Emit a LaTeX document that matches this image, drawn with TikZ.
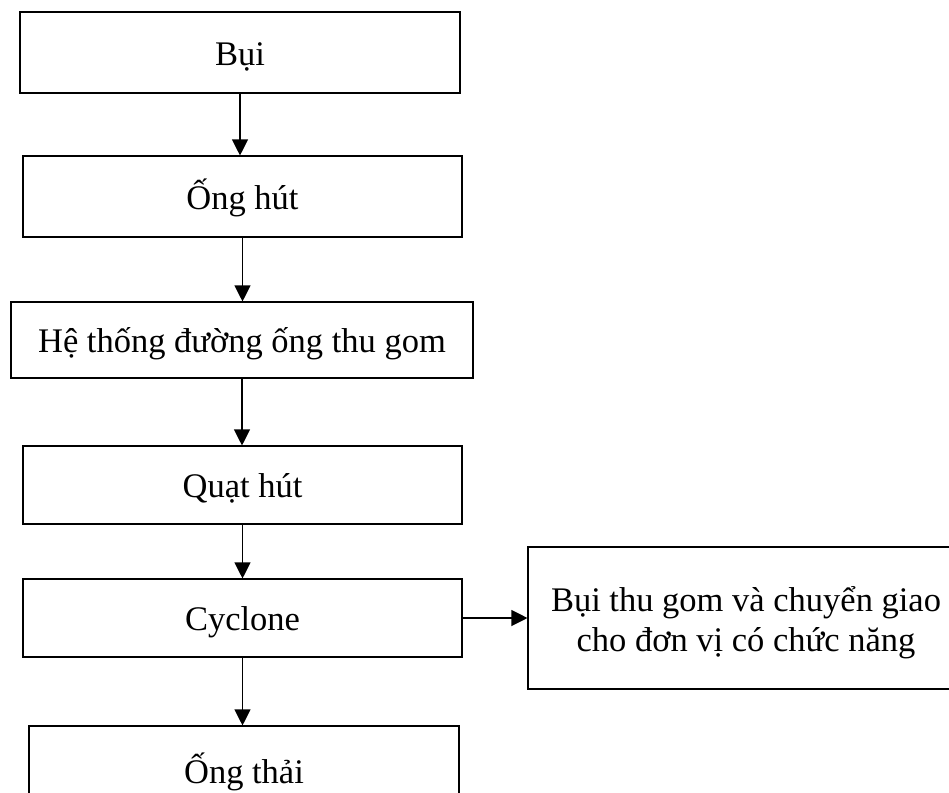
\documentclass[tikz,border=0pt]{standalone}
\usepackage{fontspec}
\setmainfont{Liberation Serif}
\usetikzlibrary{arrows.meta}
\begin{document}
\begin{tikzpicture}[x=1pt,y=-1pt,
  label font/.style={font=\fontsize{34.5}{40}\selectfont},
  stepbox/.style={draw, line width=1.1pt, rectangle, inner sep=0pt,
    label font, text height=32pt, text depth=7pt},
  flow/.style={line width=1.1pt, -{Triangle[length=16pt,width=16pt]}}]
\useasboundingbox (0,0) rectangle (949,792);
\begin{scope}
\clip (0,0) rectangle (949,792);
\node[stepbox, minimum width=440pt, minimum height=81pt] (bui) at (240,52.5) {Bụi};
\node[stepbox, minimum width=439pt, minimum height=81pt] (onghut) at (242.5,196.5) {Ống hút};
\node[stepbox, minimum width=462pt, minimum height=76pt] (heth) at (242,340) {Hệ thống đường ống thu gom};
\node[stepbox, minimum width=439pt, minimum height=78pt] (quat) at (242.5,485) {Quạt hút};
\node[stepbox, minimum width=439pt, minimum height=78pt] (cyc) at (242.5,618) {Cyclone};
\node[stepbox, minimum width=430pt, minimum height=89pt] (thai) at (244,770.5) {Ống thải};
% side box: frame running past the right edge, and its two-line caption
\node[draw, line width=1.1pt, rectangle, inner sep=0pt,
  minimum width=472pt, minimum height=142pt] (dust) at (764,618) {};
\node[label font, align=center, inner sep=0pt] (dusttext) at (746,623)
  {Bụi thu gom và chuyển giao\\cho đơn vị có chức năng};
\end{scope}
\draw[flow] (bui.south) -- (bui.south |- onghut.north);
\draw[flow] (onghut.south) -- (onghut.south |- heth.north);
\draw[flow] (heth.south) -- (heth.south |- quat.north);
\draw[flow] (quat.south) -- (quat.south |- cyc.north);
\draw[flow] (cyc.south) -- (cyc.south |- thai.north);
\draw[flow] (cyc.east) -- (dust.west);
\end{tikzpicture}
\end{document}
